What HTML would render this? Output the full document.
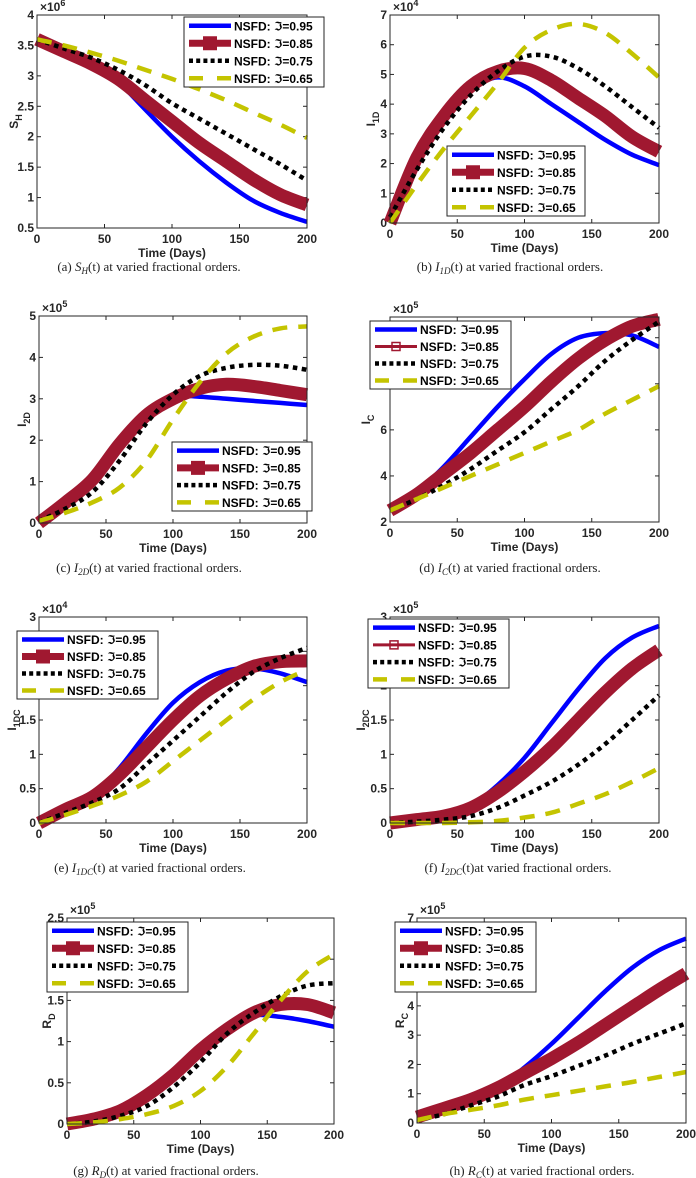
<!DOCTYPE html>
<html><head><meta charset="utf-8">
<style>
html,body{margin:0;padding:0;background:#fff;}
svg{display:block;}
.tk{font:bold 12px "Liberation Sans",sans-serif;fill:#262626;}
.lg{font:bold 12px "Liberation Sans","DejaVu Sans",sans-serif;fill:#000;}
.cap{font:13px "Liberation Serif",serif;fill:#222;}
</style></head>
<body>
<svg id="fig" width="696" height="1178" viewBox="0 0 696 1178" xmlns="http://www.w3.org/2000/svg"></svg>
<script>
const days = [0,20,40,60,80,100,120,140,160,180,200];
const xTicks = [0,50,100,150,200];
// (a) S_H x1e6
const aBlue = [3.6,3.4,3.2,2.9,2.45,2.0,1.6,1.25,0.95,0.75,0.6];
const aRed = [3.6,3.4,3.2,2.95,2.6,2.25,1.9,1.6,1.3,1.05,0.88];
const aBlack = [3.6,3.45,3.3,3.1,2.85,2.55,2.3,2.05,1.8,1.55,1.28];
const aYellow = [3.6,3.5,3.38,3.25,3.1,2.95,2.78,2.6,2.4,2.2,1.98];
const aTicks = [0.5,1,1.5,2,2.5,3,3.5,4];
// (b) I_1D x1e4
const bBlue = [0,2.2,3.6,4.5,4.9,4.6,4.0,3.4,2.8,2.3,1.95];
const bRed = [0,2.2,3.6,4.6,5.1,5.2,4.8,4.2,3.6,2.9,2.4];
const bBlack = [0.2,1.8,3.2,4.3,5.1,5.6,5.6,5.2,4.6,3.9,3.2];
const bYellow = [0,1.3,2.5,3.6,4.7,5.9,6.5,6.7,6.4,5.7,4.9];
const bTicks = [0,1,2,3,4,5,6,7];
// (c) I_2D x1e5
const cBlue = [0,0.5,1.1,2.0,2.7,3.05,3.05,3.0,2.95,2.9,2.85];
const cRed = [0,0.5,1.05,1.9,2.6,3.0,3.25,3.35,3.3,3.2,3.1];
const cBlack = [0.05,0.35,0.75,1.5,2.4,3.1,3.55,3.75,3.82,3.8,3.7];
const cYellow = [0.05,0.25,0.5,0.85,1.5,2.5,3.4,4.1,4.5,4.7,4.75];
const cTicks = [0,1,2,3,4,5];
// (d) I_C x1e5
const dBlue = [2.5,3.3,4.4,5.7,7.0,8.2,9.3,10.0,10.2,10.1,9.6];
const dRed = [2.5,3.2,4.1,5.0,6.0,7.0,8.1,9.1,9.9,10.5,10.8];
const dBlack = [2.5,3.0,3.6,4.3,5.1,5.9,6.9,7.9,9.0,9.9,10.7];
const dYellow = [2.5,3.0,3.5,4.0,4.5,5.0,5.5,6.0,6.7,7.3,7.9];
const dTicks = [2,4,6,8,10];
// (e) I_1DC x1e4
const eBlue = [0,0.2,0.4,0.8,1.3,1.75,2.05,2.22,2.25,2.18,2.05];
const eRed = [0,0.2,0.38,0.7,1.1,1.5,1.85,2.1,2.28,2.35,2.36];
const eBlack = [0,0.15,0.3,0.5,0.85,1.2,1.55,1.9,2.2,2.4,2.55];
const eYellow = [0,0.12,0.25,0.4,0.6,0.9,1.2,1.5,1.8,2.05,2.23];
const eTicks = [0,0.5,1,1.5,2,2.5,3];
// (f) I_2DC x1e5
const fBlue = [0,0.05,0.12,0.25,0.55,0.95,1.45,1.95,2.4,2.7,2.87];
const fRed = [0,0.05,0.1,0.22,0.45,0.75,1.1,1.5,1.9,2.25,2.52];
const fBlack = [0,0.02,0.05,0.1,0.22,0.4,0.6,0.85,1.15,1.5,1.86];
const fYellow = [0,0,0,0.01,0.03,0.08,0.15,0.28,0.42,0.6,0.8];
const fTicks = [0,0.5,1,1.5,2,2.5,3];
// (g) R_D x1e5
const gBlue = [0,0.05,0.15,0.35,0.65,0.95,1.2,1.32,1.3,1.25,1.18];
const gRed = [0,0.06,0.16,0.35,0.6,0.9,1.15,1.35,1.45,1.45,1.35];
const gBlack = [0,0.03,0.1,0.22,0.45,0.75,1.1,1.35,1.55,1.68,1.71];
const gYellow = [0,0.02,0.06,0.12,0.22,0.4,0.7,1.1,1.5,1.85,2.06];
const gTicks = [0,0.5,1,1.5,2,2.5];
// (h) R_C x1e5
const hBlue = [0.2,0.5,0.8,1.2,1.9,2.7,3.6,4.5,5.3,5.9,6.3];
const hRed = [0.2,0.5,0.8,1.2,1.7,2.2,2.75,3.35,3.95,4.55,5.1];
const hBlack = [0.1,0.3,0.6,0.9,1.3,1.6,1.95,2.3,2.7,3.05,3.4];
const hYellow = [0.1,0.3,0.45,0.6,0.8,0.95,1.1,1.25,1.4,1.57,1.74];
const hTicks = [0,1,2,3,4,5,6,7];
const legendLabels = ["NSFD: \u2111=0.95","NSFD: \u2111=0.85","NSFD: \u2111=0.75","NSFD: \u2111=0.65"];

const panels = [
 {id:'a',L:37,R:307,T:15,B:228,ymin:0.5,ymax:4,ticks:aTicks,exp:'6',ylab:['S','H'],ylx:10,
  s:[aBlue,aRed,aBlack,aYellow],lg:[184,17,324,87],thin:false,cap:['(a) ','S','H','(t) at varied fractional orders.'],cx:149,cy:271},
 {id:'b',L:390,R:659,T:15,B:223,ymin:0,ymax:7,ticks:bTicks,exp:'4',ylab:['I','1D'],ylx:367,
  s:[bBlue,bRed,bBlack,bYellow],lg:[447,146,585,216],thin:false,cap:['(b) ','I','1D','(t) at varied fractional orders.'],cx:510,cy:271},
 {id:'c',L:39,R:307,T:316,B:523,ymin:0,ymax:5,ticks:cTicks,exp:'5',ylab:['I','2D'],ylx:18,
  s:[cBlue,cRed,cBlack,cYellow],lg:[172,442,312,511],thin:false,cap:['(c) ','I','2D','(t) at varied fractional orders.'],cx:149,cy:572},
 {id:'d',L:390,R:659,T:317,B:522,ymin:2,ymax:10.9,ticks:dTicks,exp:'5',ylab:['I','C'],ylx:362,
  s:[dBlue,dRed,dBlack,dYellow],lg:[370,321,511,389],thin:true,cap:['(d) ','I','C','(t) at varied fractional orders.'],cx:510,cy:572},
 {id:'e',L:39,R:307,T:617,B:823,ymin:0,ymax:3,ticks:eTicks,exp:'4',ylab:['I','1DC'],ylx:8,
  s:[eBlue,eRed,eBlack,eYellow],lg:[17,631,158,699],thin:false,cap:['(e) ','I','1DC','(t) at varied fractional orders.'],cx:150,cy:872},
 {id:'f',L:390,R:659,T:617,B:823,ymin:0,ymax:3,ticks:fTicks,exp:'5',ylab:['I','2DC'],ylx:357,
  s:[fBlue,fRed,fBlack,fYellow],lg:[368,619,509,688],thin:true,cap:['(f) ','I','2DC','(t)at varied fractional orders.'],cx:518,cy:872},
 {id:'g',L:67,R:334,T:918,B:1124,ymin:0,ymax:2.5,ticks:gTicks,exp:'5',ylab:['R','D'],ylx:43,
  s:[gBlue,gRed,gBlack,gYellow],lg:[47,922,188,992],thin:false,cap:['(g) ','R','D','(t) at varied fractional orders.'],cx:166,cy:1175},
 {id:'h',L:417,R:686,T:918,B:1123,ymin:0,ymax:7,ticks:hTicks,exp:'5',ylab:['R','C'],ylx:396,
  s:[hBlue,hRed,hBlack,hYellow],lg:[395,922,536,992],thin:false,cap:['(h) ','R','C','(t) at varied fractional orders.'],cx:542,cy:1175}
];
const NS='http://www.w3.org/2000/svg';
const svg=document.getElementById('fig');
function mk(tag,attrs,parent){const e=document.createElementNS(NS,tag);for(const k in attrs)e.setAttribute(k,attrs[k]);(parent||svg).appendChild(e);return e;}
const styles=[
 {stroke:'#0000ff',w:4.5,dash:null},
 {stroke:'#a01830',w:13,dash:null},
 {stroke:'#000',w:4.5,dash:'4.5,4.5'},
 {stroke:'#c4c400',w:4.5,dash:'15,11'}];
function spline(pts){
 let d='M'+pts[0][0].toFixed(1)+','+pts[0][1].toFixed(1);
 for(let i=0;i<pts.length-1;i++){
  const p0=pts[Math.max(0,i-1)],p1=pts[i],p2=pts[i+1],p3=pts[Math.min(pts.length-1,i+2)];
  const c1=[p1[0]+(p2[0]-p0[0])/6,p1[1]+(p2[1]-p0[1])/6];
  const c2=[p2[0]-(p3[0]-p1[0])/6,p2[1]-(p3[1]-p1[1])/6];
  d+=' C'+c1.map(v=>v.toFixed(1)).join(',')+' '+c2.map(v=>v.toFixed(1)).join(',')+' '+p2[0].toFixed(1)+','+p2[1].toFixed(1);
 }
 return d;
}
panels.forEach(P=>{
 const g=mk('g',{});
 
 
 const xs=v=>P.L+(v-0)/200*(P.R-P.L);
 const ys=v=>P.B-(v-P.ymin)/(P.ymax-P.ymin)*(P.B-P.T);
 const bg=mk('rect',{x:P.L,y:P.T,width:P.R-P.L,height:P.B-P.T,fill:'#fff'},g);
 
 
 // ticks
 xTicks.forEach(v=>{
  const x=xs(v);
  mk('line',{x1:x,y1:P.B,x2:x,y2:P.B-4,stroke:'#262626','stroke-width':1},g);
  mk('line',{x1:x,y1:P.T,x2:x,y2:P.T+4,stroke:'#262626','stroke-width':1},g);
  const t=mk('text',{x:x,y:P.B+15,'text-anchor':'middle',class:'tk'},g);t.textContent=v;
  
  
 });
 P.ticks.forEach(v=>{
  const y=ys(v);
  mk('line',{x1:P.L,y1:y,x2:P.L+4,y2:y,stroke:'#262626','stroke-width':1},g);
  mk('line',{x1:P.R,y1:y,x2:P.R-4,y2:y,stroke:'#262626','stroke-width':1},g);
  const t=mk('text',{x:P.L-3,y:y+4,'text-anchor':'end',class:'tk'},g);t.textContent=v;
  
  
 });
 // series
 const names=['series-095','series-085','series-075','series-065'];
 P.s.forEach((arr,i)=>{
  const pts=days.map((d,k)=>[xs(d),ys(arr[k])]);
  const st=styles[i];
  const a={d:spline(pts),fill:'none',stroke:st.stroke,'stroke-width':st.w,'stroke-linejoin':'round'};
  if(st.dash)a['stroke-dasharray']=st.dash;
  const p=mk('path',a,g);
  
  
 });
 const box=mk('rect',{x:P.L,y:P.T,width:P.R-P.L,height:P.B-P.T,fill:'none',stroke:'#262626','stroke-width':1},g);
 
 
 // exponent
 const ex=mk('text',{x:P.L+3,y:P.T-4,class:'tk'},g);
 
 
 ex.innerHTML='\u00d710<tspan dy="-5" font-size="9">'+P.exp+'</tspan>';
 // y label
 const yl=mk('text',{transform:'translate('+(P.ylx+8)+','+((P.T+P.B)/2)+') rotate(-90)','text-anchor':'middle',class:'tk','font-size':'13'},g);
 
 
 yl.innerHTML=P.ylab[0]+'<tspan dy="4" font-size="9">'+P.ylab[1]+'</tspan>';
 // x label
 const xl=mk('text',{x:(P.L+P.R)/2,y:P.B+29,'text-anchor':'middle',class:'tk','font-size':'13'},g);
 
 
 xl.textContent='Time (Days)';
 // legend
 const [lx0,ly0,lx1,ly1]=P.lg;
 const lg=mk('g',{},g);
 
 
 mk('rect',{x:lx0,y:ly0,width:lx1-lx0,height:ly1-ly0,fill:'#fff',stroke:'#262626','stroke-width':1},lg);
 const rh=(ly1-ly0)/4;
 legendLabels.forEach((lab,i)=>{
  const cy=ly0+rh*(i+0.5);
  const st=styles[i];
  const it=mk('g',{},lg);
  
  
  if(i===1){
   if(P.thin){
    mk('line',{x1:lx0+5,y1:cy,x2:lx0+47,y2:cy,stroke:st.stroke,'stroke-width':3},it);
    mk('rect',{x:lx0+22,y:cy-4,width:8,height:8,fill:'none',stroke:st.stroke,'stroke-width':1.5},it);
   }else{
    mk('line',{x1:lx0+5,y1:cy,x2:lx0+47,y2:cy,stroke:st.stroke,'stroke-width':7},it);
    mk('rect',{x:lx0+19,y:cy-7,width:14,height:14,fill:st.stroke},it);
   }
  }else{
   const a={x1:lx0+5,y1:cy,x2:lx0+47,y2:cy,stroke:st.stroke,'stroke-width':st.w};
   if(i===3)a['stroke-dasharray']='14,14';
   if(i===2)a['stroke-dasharray']='4,3.2';
   mk('line',a,it);
  }
  const t=mk('text',{x:lx0+50,y:cy+4.5,class:'lg'},it);t.textContent=lab;
 });
 // caption
 const c=mk('text',{x:P.cx,y:P.cy,'text-anchor':'middle',class:'cap'},g);
 
 
 c.innerHTML=P.cap[0]+'<tspan font-style="italic">'+P.cap[1]+'</tspan><tspan dy="3" font-size="9" font-style="italic">'+P.cap[2]+'</tspan><tspan dy="-3">'+P.cap[3]+'</tspan>';
});
</script>
</body></html>
